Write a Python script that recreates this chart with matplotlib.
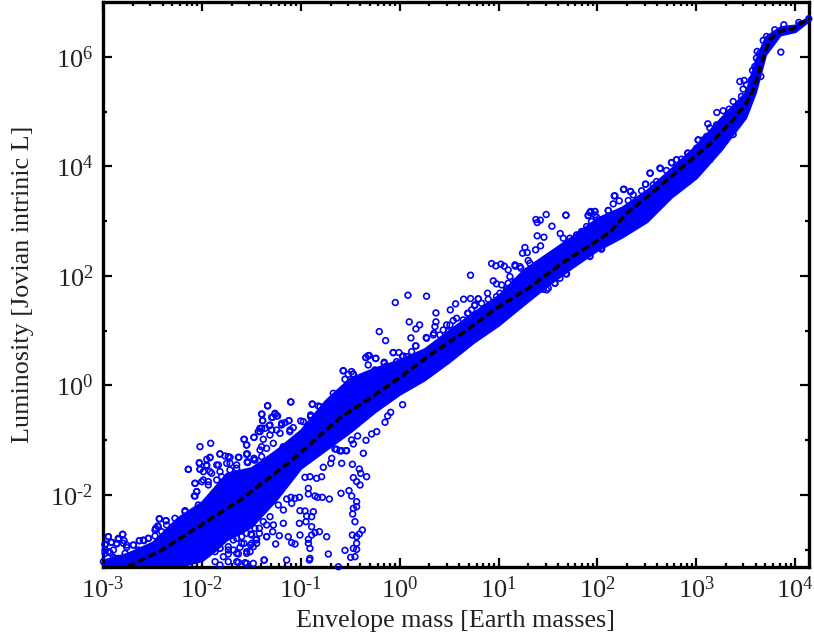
import numpy as np
import matplotlib
matplotlib.use('Agg')
import matplotlib.pyplot as plt
from matplotlib.ticker import LogLocator, NullFormatter

plt.rcParams['font.family'] = ['Liberation Serif', 'DejaVu Serif']
plt.rcParams['mathtext.fontset'] = 'custom'
plt.rcParams['mathtext.rm'] = 'Liberation Serif'
plt.rcParams['mathtext.default'] = 'rm'

# --- median track (log10 values) ---
track_log_mass = [-2.75, -2.42, -2.12, -1.82, -1.61, -1.36, -1.11, -0.86, -0.60, -0.30, 0.00, 0.31, 0.64, 0.98,
                  1.32, 1.65, 2.13, 2.30, 2.53, 2.86, 3.14, 3.37, 3.51, 3.59, 3.66, 3.74, 3.85, 3.98, 4.13]
track_log_lum = [-3.31, -3.02, -2.68, -2.33, -2.09, -1.74, -1.40, -1.00, -0.59, -0.23, 0.14, 0.56, 0.96, 1.41,
                 1.80, 2.24, 2.80, 3.15, 3.48, 3.99, 4.41, 4.85, 5.16, 5.45, 5.89, 6.31, 6.47, 6.51, 6.69]

# --- solid part of the cloud, where the circles merge ---
band_log_mass = [-3.00, -2.75, -2.50, -2.25, -2.00, -1.87, -1.75, -1.50, -1.25, -1.00, -0.75, -0.50, -0.25, 0.00,
                 0.25, 0.50, 0.75, 1.00, 1.25, 1.50, 1.75, 2.00, 2.25, 2.50, 2.75, 3.00, 3.25, 3.50, 3.60, 3.70,
                 3.85, 4.00, 4.14]
band_log_upper = [-3.19, -3.06, -2.86, -2.42, -2.12, -1.85, -1.60, -1.50, -1.18, -0.81, -0.27, 0.14, 0.32, 0.47,
                  0.67, 1.01, 1.34, 1.65, 2.11, 2.42, 2.73, 3.06, 3.26, 3.57, 3.97, 4.39, 4.89, 5.36, 5.95, 6.37,
                  6.55, 6.58, 6.73]
band_log_lower = [-3.31, -3.31, -3.31, -3.31, -3.20, -3.02, -2.82, -2.58, -2.09, -1.51, -1.18, -0.85, -0.48, -0.16,
                  0.10, 0.43, 0.79, 1.10, 1.47, 1.83, 2.16, 2.47, 2.71, 2.99, 3.44, 3.79, 4.30, 4.89, 5.36, 6.04,
                  6.40, 6.46, 6.66]

# --- single circles that can be told apart ---
low_log_mass = [-1.335, -1.099, -0.883, -1.395, -1.385, -1.260, -1.284, -1.244, -1.395, -1.412, -1.311, -1.193,
                -1.119, -1.571, -1.473, -1.547, -2.019, -1.911, -2.137, -1.817, -1.716, -1.625, -1.540, -1.540,
                -1.473, -2.026, -1.951, -1.918, -1.766, -2.019, -1.951, -1.833, -1.716, -2.069, -1.985, -2.052,
                -2.069, -2.170, -2.430, -2.363, -2.467, -2.447, -2.946, -2.801, -2.845, -2.912, -2.861, -2.794,
                -2.693, -2.760, -2.632, -2.592, -2.541, -2.979, -2.979, -2.929, -2.878, -1.918, -1.800, -1.648,
                -1.547, -1.412, -1.294, -1.210, -1.109, -0.974, -0.900, -0.805, -0.671]
low_log_lum = [-0.369, -0.302, -0.338, -0.521, -0.643, -0.527, -0.582, -0.558, -0.783, -0.844, -0.722, -0.692,
               -0.643, -0.984, -0.947, -1.087, -1.118, -1.057, -1.532, -1.252, -1.313, -1.313, -1.252, -1.392,
               -1.361, -1.410, -1.349, -1.319, -1.288, -1.532, -1.471, -1.453, -1.422, -1.787, -1.726, -1.940,
               -2.019, -2.287, -2.433, -2.469, -2.609, -2.567, -2.762, -2.719, -2.792, -2.865, -2.883, -2.883,
               -2.914, -2.914, -2.835, -2.822, -2.792, -2.895, -3.005, -3.054, -3.157, -1.574, -1.666, -1.513,
               -1.666, -1.179, -0.813, -0.874, -0.813, -0.661, -0.539, -0.387, -0.144]

under_log_mass = [0.030, -0.091, -0.121, -0.148, -0.232, -0.283, -0.340, -0.468, -0.367, -0.536, -0.586, -0.637,
                  -0.687, -0.697, -0.772, -0.586, -0.478, -0.408, -0.394, -0.468, -0.334, -0.435, -0.401, -0.789,
                  -0.907, -0.839, -0.957, -0.923, -0.512, -0.593, -0.485, -0.856, -0.782, -0.829, -0.711, -0.923,
                  -1.014, -1.058, -1.099, -1.142, -1.092, -0.435, -0.435, -0.468, -0.475, -1.008, -0.957, -0.873,
                  -0.940, -0.890, -1.176, -1.227, -0.452, -1.014, -0.947, -1.176, -1.277, -0.890, -0.377, -0.408,
                  -0.478, -0.435, -0.812, -0.856, -0.890, -0.923, -0.738, -1.008, -1.126, -1.217, -1.284, -1.345,
                  -1.503, -1.446, -1.648, -1.496, -1.598, -1.092, -1.058, -0.923, -0.907, -1.254, -0.435, -0.468,
                  -0.435, -0.553, -0.721, -0.907, -0.913, -0.495, -0.452, -1.142, -1.372, -1.513, -1.547, -1.648,
                  -1.732, -1.817, -1.783, -1.648, -1.564, -0.620, -1.480, -1.446]
under_log_lum = [-0.351, -0.491, -0.558, -0.673, -0.844, -0.886, -1.002, -1.069, -1.239, -1.191, -1.191, -1.166,
                 -1.331, -1.422, -1.495, -1.422, -1.440, -1.526, -1.605, -1.684, -1.666, -1.757, -1.818, -1.666,
                 -1.666, -1.696, -1.678, -1.879, -1.921, -1.970, -2.019, -2.019, -2.043, -2.043, -2.074, -1.982,
                 -2.043, -2.061, -2.043, -2.074, -2.153, -2.122, -2.214, -2.244, -2.348, -2.287, -2.293, -2.305,
                 -2.384, -2.396, -2.274, -2.183, -2.488, -2.518, -2.488, -2.518, -2.548, -2.579, -2.640, -2.713,
                 -2.731, -2.762, -2.670, -2.688, -2.731, -2.810, -2.762, -2.731, -2.762, -2.743, -2.670, -2.762,
                 -2.713, -2.810, -2.792, -2.883, -2.883, -2.871, -2.895, -2.883, -2.975, -2.895, -2.883, -2.975,
                 -2.993, -3.011, -3.078, -3.157, -3.188, -3.139, -3.127, -3.188, -3.188, -3.036, -3.066, -3.066,
                 -3.005, -2.975, -3.127, -3.218, -3.236, -3.310, -2.944, -2.883]

mid_log_mass = [-0.044, 0.084, 0.272, -0.206, -0.142, 0.097, 0.165, 0.202, 0.114, 0.367, 0.367, 0.512, 0.566,
                0.647, 0.717, 0.795, 0.717, 0.889, 0.758, 0.687, 0.947, 0.980, 0.930, 0.973, 1.024, 1.058, 1.098,
                1.169, 1.226, 1.267, 1.243, 1.290, 1.300, 1.375, 1.425, 1.378, 1.422, 1.391, 1.482, 1.540, 1.681,
                1.391, 1.459, 1.624, 1.907, 1.924, 1.974, 1.974, 2.109, 1.681, 1.503, 1.570, 2.042, 1.924, -0.570,
                -0.486, -0.469, -0.341, -0.307, -0.243, -0.156, -0.065, -0.007, 0.161, 0.269, 0.475, 0.347]
mid_log_lum = [1.513, 1.647, 1.629, 0.983, 0.819, 1.160, 1.032, 1.105, 0.868, 1.324, 1.160, 1.379, 1.489, 1.574,
               1.586, 1.580, 2.012, 1.684, 1.458, 1.318, 1.909, 1.854, 2.225, 2.183, 2.213, 2.177, 2.110, 2.177,
               2.140, 2.518, 2.414, 2.426, 2.280, 2.475, 2.548, 3.029, 3.017, 2.974, 3.120, 2.907, 3.108, 2.731,
               2.706, 2.773, 3.096, 3.157, 3.175, 3.114, 3.193, 2.037, 1.775, 1.866, 2.487, 2.353, 0.265, 0.253,
               0.204, 0.508, 0.545, 0.490, 0.423, 0.600, 0.600, 0.722, 0.874, 1.105, 0.953]

high_log_mass = [3.855, 3.373, 2.170, 2.264, 2.335, 2.487, 2.534, 2.638, 2.750, 2.918, 3.019, 2.996, 3.117, 3.137,
                 3.208, 3.272, 3.333, 3.373, 3.441, 3.484, 3.474, 3.508, 3.616, 3.609, 3.677, 3.885, 4.037, 4.138,
                 3.569, 3.653]
high_log_lum = [6.085, 4.581, 3.461, 3.577, 3.540, 3.674, 3.875, 3.960, 4.064, 4.240, 4.478, 3.869, 4.776, 4.703,
                4.983, 5.014, 5.044, 5.184, 5.549, 5.568, 5.409, 5.488, 6.097, 5.976, 6.298, 6.584, 6.627, 6.694,
                5.750, 5.641]

# --- circles on the rough edge of the cloud ---
edge_a_log_mass = [-2.137, -2.026, -1.918, -1.817, -1.733, -1.631, -1.547, -1.463, -1.396, -1.537, -1.648, -1.749,
                   -1.850, -1.952, -2.019, -1.985, -1.901, -1.817, -1.716, -1.615, -2.070, -2.002, -1.935, -2.053,
                   -2.076, -2.036, -1.935, -1.850, -2.171, -2.103, -2.430, -2.363, -2.272, -2.440, -2.474, -2.407,
                   -2.356, -2.946, -2.801, -2.919, -2.845, -2.787, -2.862, -2.979, -2.760, -2.693, -2.632, -2.585,
                   -2.541, -2.474, -2.895, -2.845, -2.946, -2.895, -2.979, -2.777, -2.710, -2.642, -2.575, -2.996,
                   -2.929, -2.828, -2.727, -1.345, -1.419, -1.497, -1.453, -1.507, -1.419, -1.379, -1.547, -1.598,
                   -1.574, -1.615, -1.547, -1.682, -1.733, -1.682, -1.631, -1.733, -1.817, -1.867, -1.918, -1.952,
                   -2.019, -2.086, -1.867, -1.733, -1.631, -1.547, -1.480, -1.369, -1.817, -1.345, -1.311, -1.463]
edge_a_log_lum = [-1.531, -1.422, -1.312, -1.251, -1.300, -1.312, -1.251, -1.361, -1.300, -1.409, -1.452, -1.422,
                  -1.452, -1.452, -1.531, -1.574, -1.604, -1.574, -1.543, -1.635, -1.787, -1.757, -1.757, -1.939,
                  -2.018, -2.183, -1.817, -1.726, -2.305, -2.335, -2.439, -2.469, -2.426, -2.579, -2.640, -2.670,
                  -2.548, -2.761, -2.719, -2.865, -2.810, -2.834, -2.895, -2.914, -2.956, -2.914, -2.834, -2.834,
                  -2.792, -2.749, -3.139, -3.157, -3.035, -3.005, -3.066, -3.066, -3.096, -3.005, -3.005, -3.218,
                  -3.218, -3.218, -3.218, -2.761, -2.701, -2.731, -2.822, -2.914, -2.609, -2.487, -2.701, -2.761,
                  -2.883, -2.956, -3.035, -2.822, -2.944, -3.005, -3.078, -3.078, -2.975, -3.035, -3.005, -3.078,
                  -3.127, -3.188, -3.218, -3.218, -3.230, -3.249, -3.249, -3.188, -3.279, -2.548, -2.396, -2.609]

edge_b_log_mass = [-1.335, -1.103, -1.393, -1.386, -1.261, -1.295, -1.234, -0.884, -0.823, -1.120, -1.160, -1.194,
                   -1.413, -1.362, -1.318, -1.473, -1.575, -1.548, -1.430, -1.379, -1.312, -1.244, -1.000, -0.901,
                   -1.076, -1.548, -1.473, -1.541, -1.396, -1.345, -1.278, -1.177, -1.110, -0.570, -0.520, -0.469,
                   -0.318, -0.240, -0.341, -0.409, -0.452, -0.553, -0.503, -0.065, 0.036, -0.156, -0.132, -0.318,
                   -0.250, -0.183, -0.031, -0.543, -0.604, -0.655, -0.486, -0.425]
edge_b_log_lum = [-0.375, -0.302, -0.527, -0.643, -0.509, -0.582, -0.558, -0.345, -0.375, -0.643, -0.680, -0.722,
                  -0.783, -0.783, -0.734, -0.948, -0.984, -1.088, -0.844, -0.984, -0.905, -0.814, -0.649, -0.570,
                  -0.771, -1.258, -1.331, -1.404, -1.118, -1.149, -1.057, -1.118, -0.844, 0.270, 0.203, 0.210,
                  0.544, 0.496, 0.508, 0.057, -0.040, 0.112, 0.051, 0.599, 0.538, 0.404, 0.356, 0.374, 0.283,
                  0.270, 0.435, -1.191, -1.197, -1.161, -0.996, -0.923]

edge_c_log_mass = [1.014, 1.081, 0.980, 0.896, 0.795, 0.829, 0.761, 0.694, 0.728, 0.643, 0.576, 0.542, 0.509, 0.441,
                   0.357, 0.340, 0.273, 0.407, 0.492, 0.165, 0.121, 0.070, 0.030, 1.115, 1.166, 1.250, 1.334, 1.418,
                   1.166, 1.216, 1.317, 1.098, 1.031, 1.570, 1.486, 1.452, 1.621, 1.688]
edge_c_log_lum = [1.683, 1.756, 1.622, 1.573, 1.579, 1.500, 1.470, 1.318, 1.379, 1.196, 1.226, 1.184, 1.104, 1.013,
                  1.074, 0.922, 0.861, 0.922, 0.983, 0.721, 0.617, 0.526, 0.526, 1.988, 1.896, 1.957, 1.988, 2.048,
                  2.201, 2.170, 2.231, 1.866, 1.835, 1.866, 1.744, 1.756, 1.957, 2.036]

edge_d_log_mass = [1.682, 1.907, 1.931, 1.975, 1.992, 2.042, 1.941, 2.110, 2.160, 2.177, 2.221, 2.268, 2.335, 2.312,
                   2.362, 2.447, 2.487, 2.565, 2.598, 2.531, 2.632, 2.699, 2.750, 2.801, 2.851, 2.912, 3.003, 3.020,
                   3.104, 3.171, 1.891, 1.840, 1.790, 1.722, 1.655, 3.020, 2.918, 2.834, 2.733, 1.924, 2.042, 1.958,
                   2.160, 2.295, 2.514, 3.138, 2.800, 3.070, 3.205, 3.322, 3.457, 3.558, 3.592, 3.643, 3.710, 3.794,
                   4.047, 2.699, 2.868, 3.137]
edge_d_log_lum = [3.108, 3.108, 3.175, 3.175, 3.071, 2.992, 2.992, 3.193, 3.315, 3.461, 3.370, 3.583, 3.540, 3.376,
                  3.479, 3.553, 3.674, 3.662, 3.723, 3.875, 3.967, 3.924, 4.070, 4.119, 4.131, 4.241, 4.332, 4.484,
                  4.545, 4.637, 2.901, 2.810, 2.749, 2.688, 2.688, 3.906, 3.723, 3.632, 3.510, 2.365, 2.505, 2.596,
                  2.688, 2.901, 3.266, 4.119, 4.118, 4.483, 4.757, 4.970, 5.275, 5.579, 5.823, 6.067, 6.371, 6.493,
                  6.584, 3.722, 3.813, 4.179]

x_tick_exps = [-3, -2, -1, 0, 1, 2, 3, 4]
y_tick_exps = [-2, 0, 2, 4, 6]
y_minor_exps = [-3, -1, 1, 3, 5]


def power_label(exp):
    if exp < 0:
        return r'$10^{\text{-}%d}$' % abs(exp)
    return r'$10^{%d}$' % exp


fig = plt.figure(figsize=(8.14, 6.44), dpi=100)
ax = fig.add_axes([103 / 814, 1 - 567 / 644, (809 - 103) / 814, (567 - 2) / 644])

# solid core of the cloud
ax.fill_between(10.0 ** np.array(band_log_mass), 10.0 ** np.array(band_log_lower), 10.0 ** np.array(band_log_upper),
                color='#0000ff', lw=1.5, zorder=2)

# the circles
all_log_mass = low_log_mass + under_log_mass + mid_log_mass + high_log_mass
all_log_lum = low_log_lum + under_log_lum + mid_log_lum + high_log_lum
all_log_mass += edge_a_log_mass + edge_b_log_mass + edge_c_log_mass + edge_d_log_mass
all_log_lum += edge_a_log_lum + edge_b_log_lum + edge_c_log_lum + edge_d_log_lum
ax.scatter(10.0 ** np.array(all_log_mass), 10.0 ** np.array(all_log_lum), s=17, facecolors='none',
           edgecolors='#0000ff', linewidths=1.2, zorder=3, clip_on=False)

# median track
ax.plot(10.0 ** np.array(track_log_mass), 10.0 ** np.array(track_log_lum), color='black', lw=2.6,
        ls=(0, (2.2, 1.0)), zorder=4)

ax.set_xscale('log')
ax.set_yscale('log')
ax.set_xlim(1e-3, 10 ** 4.14)
ax.set_ylim(10 ** -3.315, 1e7)

ax.set_xticks([10.0 ** e for e in x_tick_exps])
ax.set_xticklabels([power_label(e) for e in x_tick_exps])
ax.xaxis.set_minor_locator(LogLocator(base=10, subs=np.arange(2, 10), numticks=20))
ax.xaxis.set_minor_formatter(NullFormatter())

ax.set_yticks([10.0 ** e for e in y_tick_exps])
ax.set_yticklabels([power_label(e) for e in y_tick_exps])
ax.set_yticks([10.0 ** e for e in y_minor_exps], minor=True)
ax.yaxis.set_minor_formatter(NullFormatter())

ax.tick_params(which='major', direction='in', length=6.5, width=1.6, top=True, right=True, labelsize=19,
               pad=7, colors='black', labelcolor='#222222')
ax.tick_params(which='minor', direction='in', length=3, width=1.6, top=True, right=True)

for spine in ax.spines.values():
    spine.set_linewidth(2.4)

ax.set_xlabel('Envelope mass [Earth masses]', fontsize=18.8, color='#222222', labelpad=5)
ax.set_ylabel('Luminosity [Jovian intrinic L]', fontsize=18.8, color='#222222', labelpad=12)

fig.savefig('out.png', dpi=100)
